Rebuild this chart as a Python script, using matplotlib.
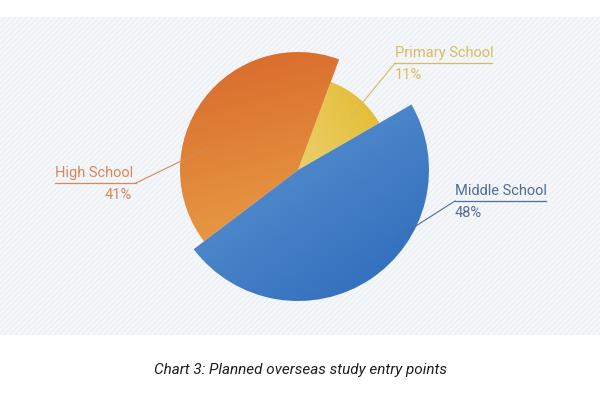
import numpy as np
import matplotlib
matplotlib.use('Agg')
import matplotlib.pyplot as plt
from matplotlib.colors import to_rgb
from matplotlib.patches import Rectangle

# data
labels = ['Primary School', 'High School', 'Middle School']
shares = [11, 41, 48]
radii = [94, 118, 131]
grad_from = ['#f5e6b4', '#eeb04e', '#6ea3da']   # light end
grad_to = ['#e2b826', '#d8682b', '#2b69ba']     # dark end
grad_dir = [(1.0, 0.6), (-0.25, 1.0), (0.7, -1.0)]
label_colors = ['#d4bd62', '#d7875c', '#4f6d9a']

plt.rcParams['font.family'] = ['Roboto', 'DejaVu Sans']
plt.rcParams['hatch.linewidth'] = 0.8

fig = plt.figure(figsize=(6, 4), dpi=100)
ax = fig.add_axes([0, 0, 1, 1])

# background panel with faint stripes
ax.add_patch(Rectangle((0, 65), 600, 318, facecolor='#f5f7fa', edgecolor='none', zorder=0))
ax.add_patch(Rectangle((0, 65), 600, 318, facecolor='none', edgecolor='#ebeef2',
                       hatch='//////', linewidth=0, zorder=0.5))

cx, cy = 298, 230
wedges, _ = ax.pie(shares, radius=1, center=(cx, cy), startangle=30,
                   counterclock=True, frame=True)


def gradient_image(c1, c2, d, n=200):
    xs = np.linspace(-1, 1, n)
    X, Y = np.meshgrid(xs, xs)
    d = np.array(d) / np.hypot(*d)
    t = (X * d[0] + Y * d[1])
    t = (t - t.min()) / (t.max() - t.min())
    a, b = np.array(to_rgb(c1)), np.array(to_rgb(c2))
    return a + (b - a) * t[..., None]


for w, r, c1, c2, d in zip(wedges, radii, grad_from, grad_to, grad_dir):
    w.set_radius(r)
    w.set_facecolor('none')
    w.set_edgecolor('none')
    w.set_zorder(2)
    img = ax.imshow(gradient_image(c1, c2, d), origin='lower',
                    extent=(cx - r, cx + r, cy - r, cy + r), zorder=2,
                    interpolation='bilinear')
    img.set_clip_path(w)

ax.set_xlim(0, 600)
ax.set_ylim(0, 400)
ax.set_aspect('equal')
ax.axis('off')

# labels with leader lines
lbl = [
    # text x, text y, underline x0, x1, underline y, leader end (x, y)
    (395, 340, 395, 492, 337, (350, 282)),
    (55, 220, 55, 136, 217, (208, 252)),
    (455, 202, 455, 546, 199, (397, 162)),
]
for (name, share, col, (tx, ty, ux0, ux1, uy, end)) in zip(labels, shares, label_colors, lbl):
    ax.text(tx, ty, name, color=col, fontsize=10.5, ha='left', va='bottom', zorder=5)
    ax.plot([ux0, ux1], [uy, uy], color=col, lw=0.9, zorder=5)
    if name == 'High School':
        ax.text(ux1 - 4, uy - 5, f'{share}%', color=col, fontsize=10.5, ha='right', va='top', zorder=5)
        ax.plot([ux1, end[0]], [uy, end[1]], color=col, lw=0.8, zorder=5)
    else:
        ax.text(tx, uy - 5, f'{share}%', color=col, fontsize=10.5, ha='left', va='top', zorder=5)
        ax.plot([ux0, end[0]], [uy, end[1]], color=col, lw=0.8, zorder=5)

ax.text(300, 30, 'Chart 3: Planned overseas study entry points', ha='center', va='center',
        fontsize=11, style='italic', color='#1e1e1e')

fig.savefig('out.png', dpi=100)
